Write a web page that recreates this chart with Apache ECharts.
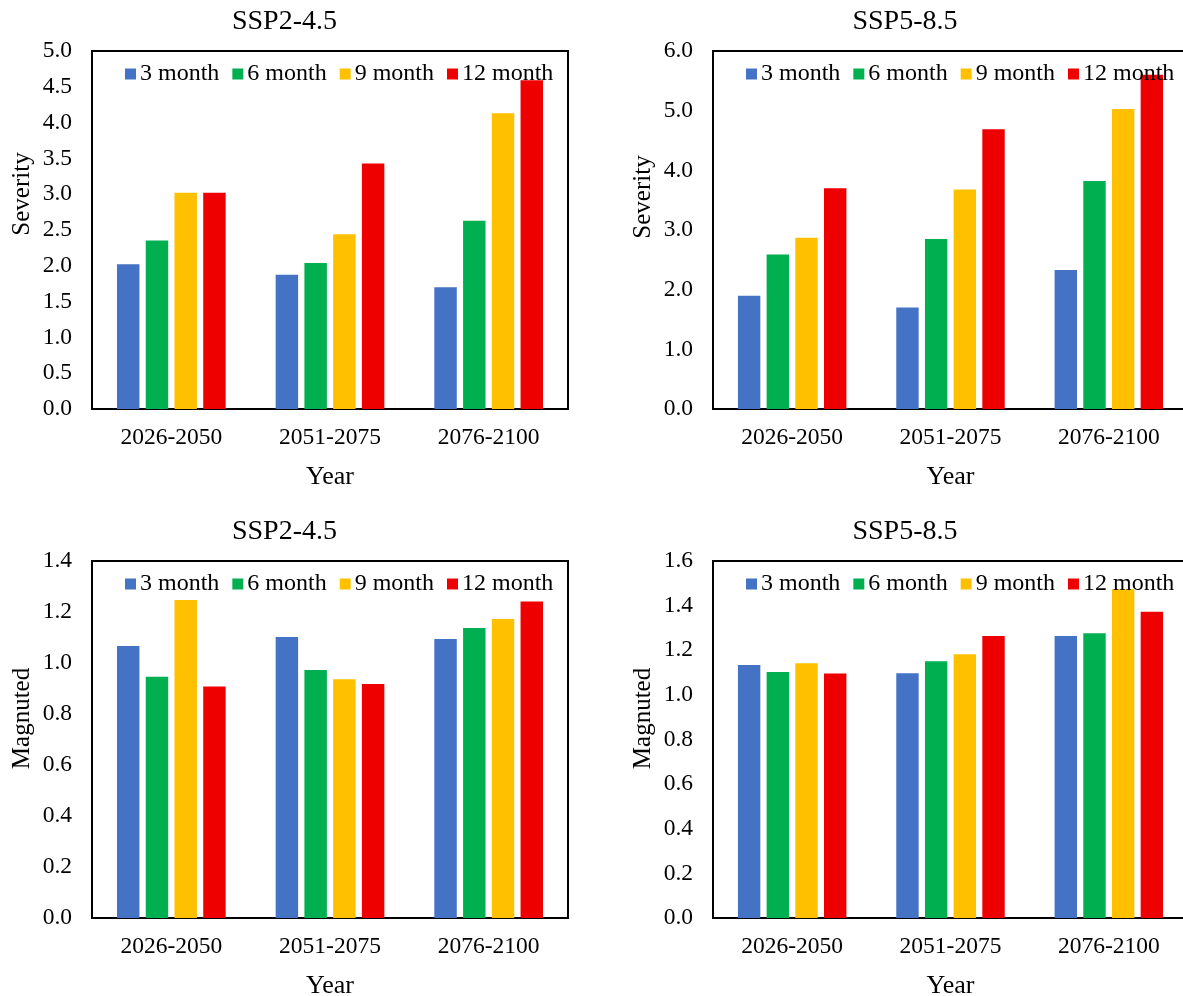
<!DOCTYPE html>
<html>
<head>
<meta charset="utf-8">
<script src="https://cdn.jsdelivr.net/npm/echarts@6/dist/echarts.min.js"></script>
<style>
html,body{margin:0;padding:0;background:#fff;}
#chart{width:1183px;height:996px;}
</style>
</head>
<body>
<div id="chart"></div>
<script>
const categories = ['2026-2050', '2051-2075', '2076-2100'];
const seriesNames = ['3 month', '6 month', '9 month', '12 month'];
const colors = ['#4472C4', '#00B050', '#FFC000', '#EE0000'];

// Severity, SSP2-4.5
const sev245_3 = [2.02, 1.875, 1.70];
const sev245_6 = [2.355, 2.04, 2.63];
const sev245_9 = [3.02, 2.44, 4.13];
const sev245_12 = [3.02, 3.43, 4.59];
// Severity, SSP5-8.5
const sev585_3 = [1.90, 1.70, 2.33];
const sev585_6 = [2.59, 2.85, 3.82];
const sev585_9 = [2.87, 3.68, 5.03];
const sev585_12 = [3.70, 4.69, 5.60];
// Magnitude, SSP2-4.5
const mag245_3 = [1.067, 1.102, 1.094];
const mag245_6 = [0.946, 0.973, 1.137];
const mag245_9 = [1.247, 0.936, 1.173];
const mag245_12 = [0.908, 0.918, 1.241];
// Magnitude, SSP5-8.5
const mag585_3 = [1.134, 1.097, 1.264];
const mag585_6 = [1.103, 1.151, 1.276];
const mag585_9 = [1.142, 1.182, 1.473];
const mag585_12 = [1.096, 1.264, 1.373];

const panels = [
  {title: 'SSP2-4.5', yName: 'Severity', max: 5, interval: 0.5, data: [sev245_3, sev245_6, sev245_9, sev245_12]},
  {title: 'SSP5-8.5', yName: 'Severity', max: 6, interval: 1, data: [sev585_3, sev585_6, sev585_9, sev585_12]},
  {title: 'SSP2-4.5', yName: 'Magnuted', max: 1.4, interval: 0.2, data: [mag245_3, mag245_6, mag245_9, mag245_12]},
  {title: 'SSP5-8.5', yName: 'Magnuted', max: 1.6, interval: 0.2, data: [mag585_3, mag585_6, mag585_9, mag585_12]}
];

const FONT = '"Liberation Serif", "Times New Roman", serif';
const layout = [
  {left: 92, top: 51, width: 476, height: 358, titleX: 284.5, titleY: 8, namePad: 72},
  {left: 713, top: 51, width: 475, height: 358, titleX: 905, titleY: 8, namePad: 66},
  {left: 92, top: 561, width: 476, height: 357, titleX: 284.5, titleY: 518, namePad: 42},
  {left: 713, top: 561, width: 475, height: 357, titleX: 905, titleY: 518, namePad: 42}
];

const option = {
  backgroundColor: '#fff',
  animation: false,
  color: colors,
  title: [], grid: [], xAxis: [], yAxis: [], legend: [], series: []
};

panels.forEach((p, i) => {
  const L = layout[i];
  option.title.push({
    text: p.title, left: L.titleX, top: L.titleY, textAlign: 'center', padding: 0,
    textStyle: {fontFamily: FONT, fontSize: 28, fontWeight: 'normal', color: '#000'}
  });
  option.grid.push({
    left: L.left, top: L.top, width: L.width, height: L.height,
    show: true, borderColor: '#000', borderWidth: 2, backgroundColor: 'transparent',
    containLabel: false, outerBoundsMode: 'none'
  });
  option.xAxis.push({
    type: 'category', gridIndex: i, data: categories,
    name: 'Year', nameLocation: 'middle', nameGap: 55,
    nameTextStyle: {fontFamily: FONT, fontSize: 26, color: '#000'},
    axisLine: {show: true, lineStyle: {color: '#000', width: 2}},
    axisTick: {show: false},
    axisLabel: {fontFamily: FONT, fontSize: 23.5, color: '#000', margin: 17},
    splitLine: {show: false}
  });
  option.yAxis.push({
    type: 'value', gridIndex: i, min: 0, max: p.max, interval: p.interval,
    name: p.yName, nameLocation: 'middle', nameGap: 57,
    nameTextStyle: {fontFamily: FONT, fontSize: 25, color: '#000', padding: [0, 0, 0, L.namePad]},
    axisLine: {show: false}, axisTick: {show: false}, splitLine: {show: false},
    axisLabel: {fontFamily: FONT, fontSize: 23.5, color: '#000', margin: 20,
      formatter: v => v.toFixed(1)}
  });
  option.legend.push({
    left: L.left + 33, top: L.top + 11, padding: 0,
    itemWidth: 11, itemHeight: 11, itemGap: 13, icon: 'rect',
    data: seriesNames,
    textStyle: {fontFamily: FONT, fontSize: 24, color: '#000', padding: [0, 0, 0, -1]}
  });
  p.data.forEach((d, k) => {
    option.series.push({
      type: 'bar', name: seriesNames[k], xAxisIndex: i, yAxisIndex: i,
      data: d, barCategoryGap: '31.5%', barGap: '28%',
      itemStyle: {color: colors[k]}
    });
  });
});

const chart = echarts.init(document.getElementById('chart'), null, {renderer: 'canvas'});
chart.setOption(option);
</script>
</body>
</html>
